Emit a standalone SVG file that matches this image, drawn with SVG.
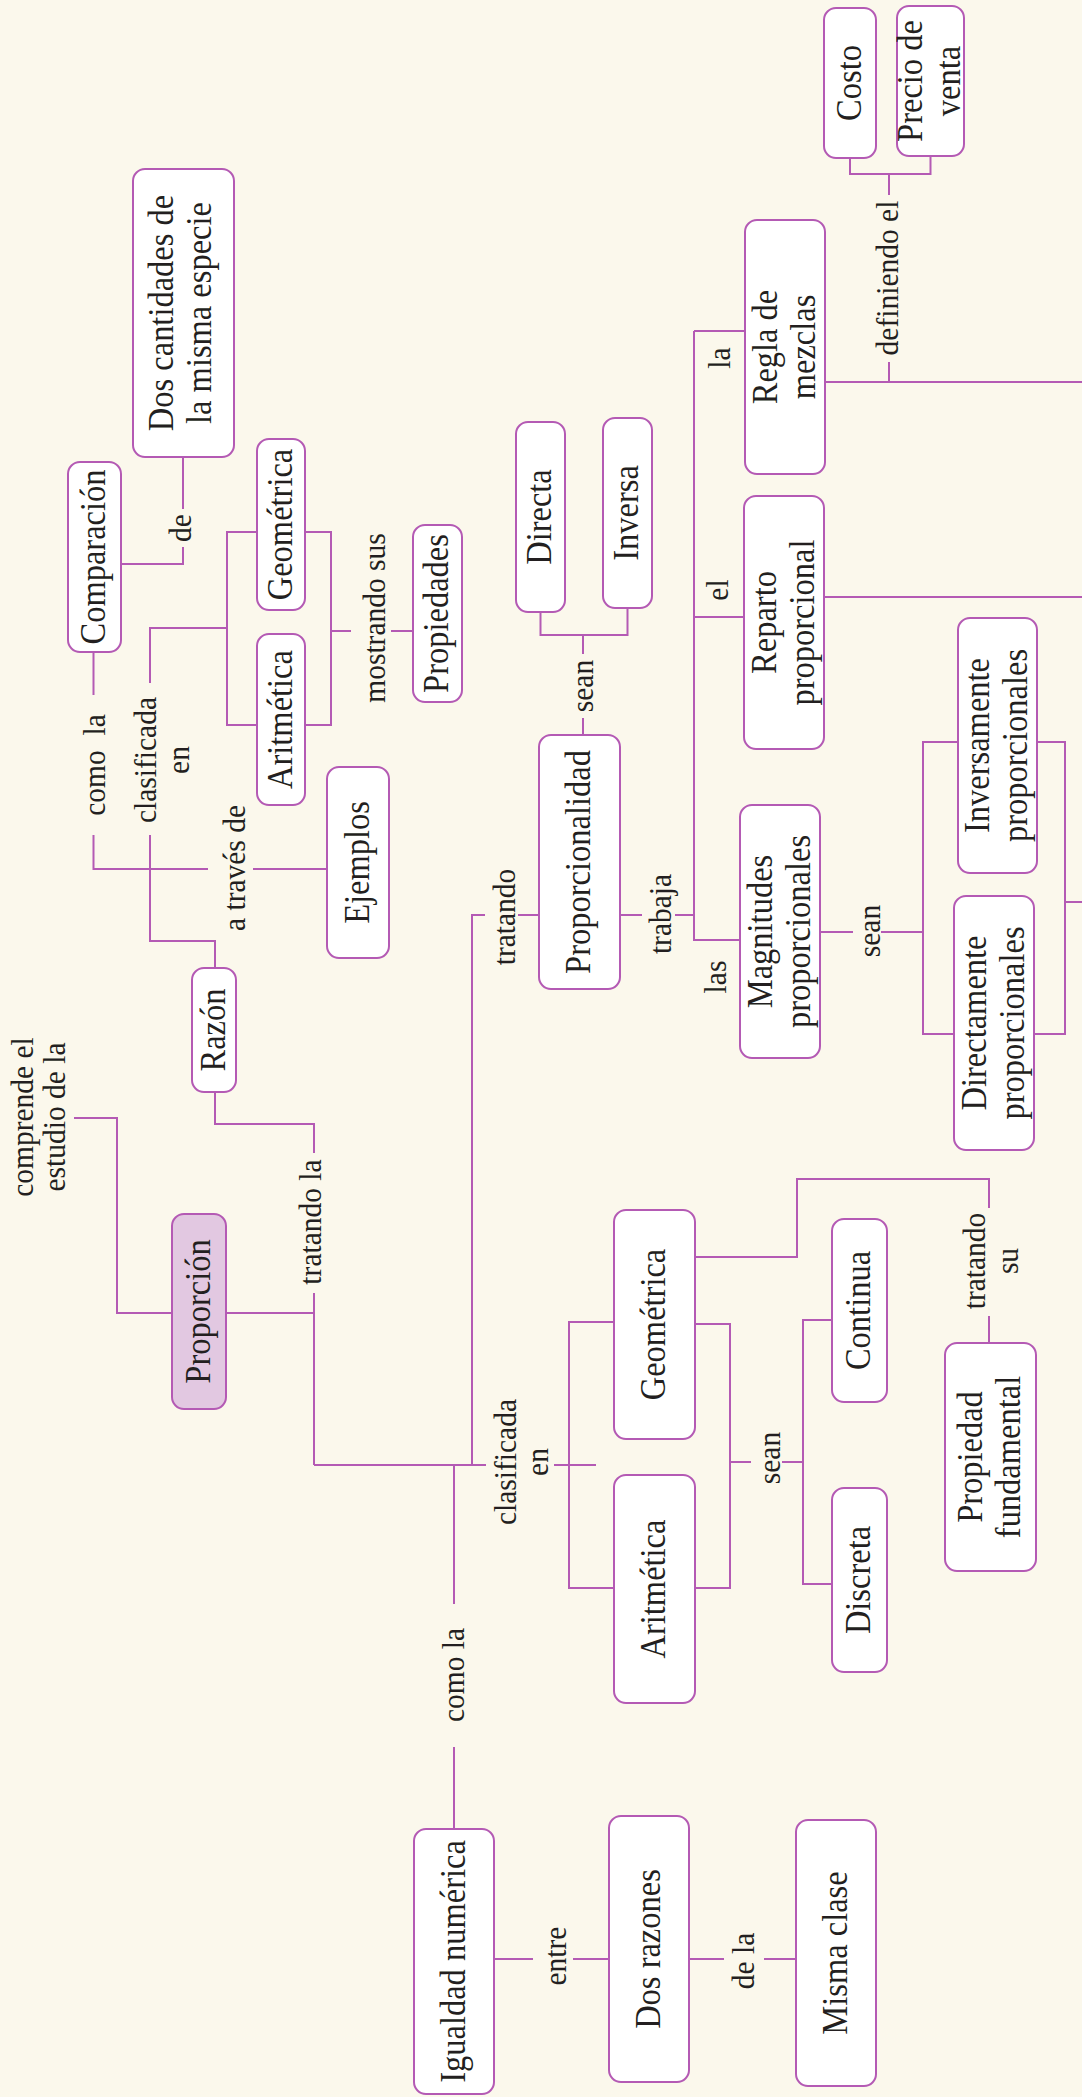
<svg xmlns="http://www.w3.org/2000/svg" width="1082" height="2097" viewBox="0 0 1082 2097">
<style>
.bg{fill:#FBF8EC}
.box rect{fill:#FFFFFF;stroke:#B45AB4;stroke-width:2}
.box.main rect{fill:#E2C8E1}
.n{font-family:"Liberation Serif","Times New Roman",serif;font-size:32.5px;fill:#231F20;text-anchor:middle}
.l{font-family:"Liberation Serif","Times New Roman",serif;font-size:29.5px;fill:#231F20;text-anchor:middle}
#connectors path{fill:none;stroke:#B45AB4;stroke-width:2}
</style>
<rect class="bg" x="0" y="0" width="1082" height="2097"/>
<g id="connectors">
<path d="M183,457 V509 M183,547 V564 H121"/>
<path d="M93.5,652 V695 M93.5,835 V869 H208 M253,869 H327"/>
<path d="M257,532 H227 V725 H257 M150,683 V628 H227 M150,835 V941 H215 V968"/>
<path d="M305,532 H331 V725 H305 M331,631 H351 M391,631 H413"/>
<path d="M215,1092 V1124 H314 V1153 M314,1293 V1465"/>
<path d="M74,1118 H117 V1313 H172 M226,1313 H314"/>
<path d="M314,1465 H486 M554,1465 H596 M472,1465 V915 H485 M518,915 H539"/>
<path d="M454,1465 V1604 M454,1747 V1829"/>
<path d="M494,1959 H533 M573,1959 H609 M689,1959 H724 M764,1959 H796"/>
<path d="M614,1322 H569 V1588 H614 M695,1324 H730 V1588 H695 M730,1462 H751 M782,1462 H803 M832,1320 H803 V1584 H832"/>
<path d="M695,1257 H797 V1179 H989 V1208 M989,1316 V1343"/>
<path d="M620,915 H642 M675,915 H694 M694,331 V940 H740 M694,331 H745 M694,617 H744"/>
<path d="M583,735 V718 M583,654 V635 M540.5,612 V635 H627.5 V608"/>
<path d="M820,932 H853 M881,932 H923 M958,742 H923 V1034 H954 M1037,742 H1065 V1034 H1034 M1065,902 H1082"/>
<path d="M825,382 H1082 M889,382 V362 M889,195 V174 M850,158 V174 H930.5 V156"/>
<path d="M824,597 H1082"/>
</g>
<g id="labels">
<text class="l" transform="translate(181,528) rotate(-90) scale(1,1.08)" y="9.5">de</text>
<text class="l" transform="translate(95,765) rotate(-90) scale(1,1.08)" y="9.5" xml:space="preserve">como  la</text>
<text class="l" transform="translate(163,760) rotate(-90) scale(1,1.08)"><tspan x="0" y="-6.5">clasificada</tspan><tspan x="0" y="24">en</tspan></text>
<text class="l" transform="translate(235,868) rotate(-90) scale(1,1.08)" y="9.5">a través de</text>
<text class="l" transform="translate(375,618) rotate(-90) scale(1,1.08)" y="9.5">mostrando sus</text>
<text class="l" transform="translate(311,1222) rotate(-90) scale(1,1.08)" y="9.5">tratando la</text>
<text class="l" transform="translate(39,1117) rotate(-90) scale(1,1.08)"><tspan x="0" y="-5.5">comprende el</tspan><tspan x="0" y="24">estudio de la</tspan></text>
<text class="l" transform="translate(505,917) rotate(-90) scale(1,1.08)" y="9.5">tratando</text>
<text class="l" transform="translate(522,1462) rotate(-90) scale(1,1.08)"><tspan x="0" y="-5.5">clasificada</tspan><tspan x="0" y="24">en</tspan></text>
<text class="l" transform="translate(454,1675) rotate(-90) scale(1,1.08)" y="9.5">como la</text>
<text class="l" transform="translate(556,1956) rotate(-90) scale(1,1.08)" y="9.5">entre</text>
<text class="l" transform="translate(744,1961) rotate(-90) scale(1,1.08)" y="9.5">de la</text>
<text class="l" transform="translate(770,1458) rotate(-90) scale(1,1.08)" y="9.5">sean</text>
<text class="l" transform="translate(992,1261) rotate(-90) scale(1,1.08)"><tspan x="0" y="-6.5">tratando</tspan><tspan x="0" y="24">su</tspan></text>
<text class="l" transform="translate(583,686) rotate(-90) scale(1,1.08)" y="9.5">sean</text>
<text class="l" transform="translate(661,914) rotate(-90) scale(1,1.08)" y="9.5">trabaja</text>
<text class="l" transform="translate(716,977) rotate(-90) scale(1,1.08)" y="9.5">las</text>
<text class="l" transform="translate(718,590) rotate(-90) scale(1,1.08)" y="9.5">el</text>
<text class="l" transform="translate(720,358) rotate(-90) scale(1,1.08)" y="9.5">la</text>
<text class="l" transform="translate(870,931) rotate(-90) scale(1,1.08)" y="9.5">sean</text>
<text class="l" transform="translate(888,278) rotate(-90) scale(1,1.08)" y="9.5">definiendo el</text>
</g>
<g id="n-dos-cantidades" class="box"><rect x="133" y="169" width="101" height="288" rx="12"/><text class="n" transform="translate(181,313) rotate(-90) scale(1,1.08)"><tspan x="0" y="-7.5">Dos cantidades de</tspan><tspan x="0" y="27.5">la misma especie</tspan></text></g>
<g id="n-comparacion" class="box"><rect x="68" y="462" width="53" height="190" rx="12"/><text class="n" transform="translate(94.5,557) rotate(-90) scale(1,1.08)" y="10">Comparación</text></g>
<g id="n-geometrica-r" class="box"><rect x="257" y="439" width="48" height="171" rx="12"/><text class="n" transform="translate(281,524.5) rotate(-90) scale(1,1.08)" y="10">Geométrica</text></g>
<g id="n-aritmetica-r" class="box"><rect x="257" y="634" width="48" height="171" rx="12"/><text class="n" transform="translate(281,719.5) rotate(-90) scale(1,1.08)" y="10">Aritmética</text></g>
<g id="n-propiedades" class="box"><rect x="413" y="525" width="49" height="177" rx="12"/><text class="n" transform="translate(437.5,613.5) rotate(-90) scale(1,1.08)" y="10">Propiedades</text></g>
<g id="n-ejemplos" class="box"><rect x="327" y="767" width="62" height="191" rx="12"/><text class="n" transform="translate(358,862.5) rotate(-90) scale(1,1.08)" y="10">Ejemplos</text></g>
<g id="n-razon" class="box"><rect x="192" y="968" width="44" height="124" rx="12"/><text class="n" transform="translate(214,1030) rotate(-90) scale(1,1.08)" y="10">Razón</text></g>
<g id="n-proporcion" class="box main"><rect x="172" y="1214" width="54" height="195" rx="12"/><text class="n" transform="translate(199,1311.5) rotate(-90) scale(1,1.08)" y="10">Proporción</text></g>
<g id="n-igualdad" class="box"><rect x="414" y="1829" width="80" height="265" rx="12"/><text class="n" transform="translate(454,1961.5) rotate(-90) scale(1,1.08)" y="10">Igualdad numérica</text></g>
<g id="n-dos-razones" class="box"><rect x="609" y="1816" width="80" height="266" rx="12"/><text class="n" transform="translate(649,1949) rotate(-90) scale(1,1.08)" y="10">Dos razones</text></g>
<g id="n-misma-clase" class="box"><rect x="796" y="1820" width="80" height="266" rx="12"/><text class="n" transform="translate(836,1953) rotate(-90) scale(1,1.08)" y="10">Misma clase</text></g>
<g id="n-aritmetica-p" class="box"><rect x="614" y="1475" width="81" height="228" rx="12"/><text class="n" transform="translate(654.5,1589) rotate(-90) scale(1,1.08)" y="10">Aritmética</text></g>
<g id="n-geometrica-p" class="box"><rect x="614" y="1210" width="81" height="229" rx="12"/><text class="n" transform="translate(654.5,1324.5) rotate(-90) scale(1,1.08)" y="10">Geométrica</text></g>
<g id="n-continua" class="box"><rect x="832" y="1219" width="55" height="183" rx="12"/><text class="n" transform="translate(859.5,1310.5) rotate(-90) scale(1,1.08)" y="10">Continua</text></g>
<g id="n-discreta" class="box"><rect x="832" y="1488" width="55" height="184" rx="12"/><text class="n" transform="translate(859.5,1580) rotate(-90) scale(1,1.08)" y="10">Discreta</text></g>
<g id="n-propiedad-fundamental" class="box"><rect x="945" y="1343" width="91" height="228" rx="12"/><text class="n" transform="translate(990.5,1457) rotate(-90) scale(1,1.08)"><tspan x="0" y="-7.5">Propiedad</tspan><tspan x="0" y="27.5">fundamental</tspan></text></g>
<g id="n-proporcionalidad" class="box"><rect x="539" y="735" width="81" height="254" rx="12"/><text class="n" transform="translate(579.5,862) rotate(-90) scale(1,1.08)" y="10">Proporcionalidad</text></g>
<g id="n-directa" class="box"><rect x="516" y="422" width="49" height="190" rx="12"/><text class="n" transform="translate(540.5,517) rotate(-90) scale(1,1.08)" y="10">Directa</text></g>
<g id="n-inversa" class="box"><rect x="603" y="418" width="49" height="190" rx="12"/><text class="n" transform="translate(627.5,513) rotate(-90) scale(1,1.08)" y="10">Inversa</text></g>
<g id="n-magnitudes" class="box"><rect x="740" y="805" width="80" height="253" rx="12"/><text class="n" transform="translate(780,931.5) rotate(-90) scale(1,1.08)"><tspan x="0" y="-7.5">Magnitudes</tspan><tspan x="0" y="27.5">proporcionales</tspan></text></g>
<g id="n-reparto" class="box"><rect x="744" y="496" width="80" height="253" rx="12"/><text class="n" transform="translate(784,622.5) rotate(-90) scale(1,1.08)"><tspan x="0" y="-7.5">Reparto</tspan><tspan x="0" y="27.5">proporcional</tspan></text></g>
<g id="n-regla" class="box"><rect x="745" y="220" width="80" height="254" rx="12"/><text class="n" transform="translate(785,347) rotate(-90) scale(1,1.08)"><tspan x="0" y="-7.5">Regla de</tspan><tspan x="0" y="27.5">mezclas</tspan></text></g>
<g id="n-costo" class="box"><rect x="824" y="8" width="52" height="150" rx="12"/><text class="n" transform="translate(850,83) rotate(-90) scale(1,1.08)" y="10">Costo</text></g>
<g id="n-precio" class="box"><rect x="897" y="6" width="67" height="150" rx="12"/><text class="n" transform="translate(930.5,81) rotate(-90) scale(1,1.08)"><tspan x="0" y="-7.5">Precio de</tspan><tspan x="0" y="27.5">venta</tspan></text></g>
<g id="n-inversamente" class="box"><rect x="958" y="618" width="79" height="255" rx="12"/><text class="n" transform="translate(997.5,745.5) rotate(-90) scale(1,1.08)"><tspan x="0" y="-7.5">Inversamente</tspan><tspan x="0" y="27.5">proporcionales</tspan></text></g>
<g id="n-directamente" class="box"><rect x="954" y="896" width="80" height="254" rx="12"/><text class="n" transform="translate(994,1023) rotate(-90) scale(1,1.08)"><tspan x="0" y="-7.5">Directamente</tspan><tspan x="0" y="27.5">proporcionales</tspan></text></g>
</svg>
